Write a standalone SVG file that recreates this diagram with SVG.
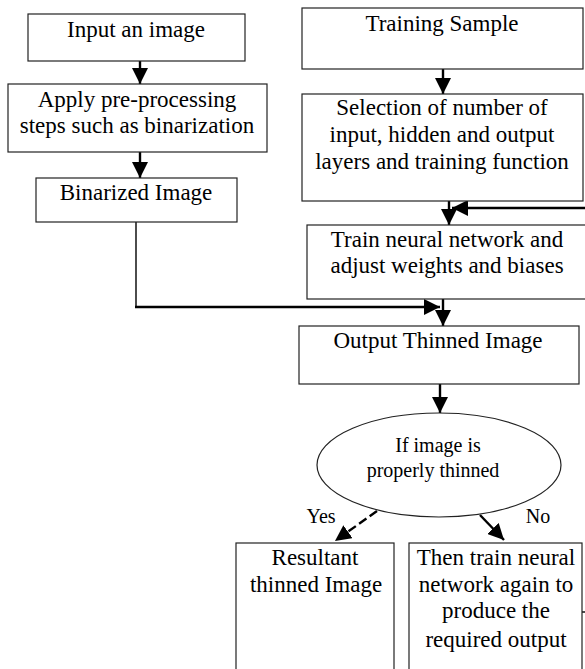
<svg xmlns="http://www.w3.org/2000/svg" width="585" height="669" viewBox="0 0 585 669">
<defs>
<style>
.box{fill:#fff;stroke:#222;stroke-width:1.2}
.t{font-family:"Liberation Serif","Times New Roman",serif;font-size:23px;fill:#000;text-anchor:middle}
.s{font-size:20px}
.c{fill:none;stroke:#000;stroke-width:2.4}
.thin{fill:none;stroke:#000;stroke-width:1.4}
</style>
<marker id="ah" viewBox="0 0 16 16" refX="16" refY="8" markerWidth="16" markerHeight="16" markerUnits="userSpaceOnUse" orient="auto">
<path d="M0,0 L16,8 L0,16 Z" fill="#000"/>
</marker>
</defs>
<rect width="585" height="669" fill="#fff"/>
<g id="connectors">
<line class="c" x1="140" y1="61" x2="140" y2="84" marker-end="url(#ah)"/>
<line class="c" x1="140" y1="152" x2="140" y2="178" marker-end="url(#ah)"/>
<line class="c" x1="443" y1="69" x2="443" y2="94" marker-end="url(#ah)"/>
<line class="c" x1="449" y1="201" x2="449" y2="225" marker-end="url(#ah)"/>
<line class="c" x1="585" y1="208" x2="452" y2="208" marker-end="url(#ah)"/>
<polyline class="thin" points="136,222 136,307"/>
<line class="c" x1="135" y1="307" x2="440" y2="307" marker-end="url(#ah)"/>
<line class="c" x1="443" y1="299" x2="443" y2="326" marker-end="url(#ah)"/>
<line class="c" x1="440" y1="384" x2="440" y2="413" marker-end="url(#ah)"/>
<line class="c" x1="377" y1="511" x2="335" y2="541" stroke-dasharray="9,4" marker-end="url(#ah)"/>
<line class="c" x1="480" y1="515" x2="504" y2="540" marker-end="url(#ah)"/>
<line class="thin" x1="582" y1="612" x2="585" y2="612"/>
</g>
<g id="input">
<rect class="box" x="28" y="14" width="217" height="47"/>
<text class="t" x="136" y="37">Input an image</text>
</g>
<g id="preprocess">
<rect class="box" x="8" y="84" width="259" height="68"/>
<text class="t" x="137" y="107">Apply pre-processing</text>
<text class="t" x="137" y="133">steps such as binarization</text>
</g>
<g id="binarized">
<rect class="box" x="36" y="178" width="201" height="44"/>
<text class="t" x="136" y="200">Binarized Image</text>
</g>
<g id="training">
<rect class="box" x="302" y="8" width="281" height="61"/>
<text class="t" x="442" y="31">Training Sample</text>
</g>
<g id="selection">
<rect class="box" x="302" y="94" width="281" height="107"/>
<text class="t" x="442" y="115">Selection of number of</text>
<text class="t" x="442" y="142">input, hidden and output</text>
<text class="t" x="442" y="169">layers and training function</text>
</g>
<g id="train">
<rect class="box" x="307" y="225" width="280" height="74"/>
<text class="t" x="447" y="247">Train neural network and</text>
<text class="t" x="447" y="273">adjust weights and biases</text>
</g>
<g id="output">
<rect class="box" x="299" y="326" width="280" height="58"/>
<text class="t" x="438" y="348">Output Thinned Image</text>
</g>
<g id="decision">
<ellipse class="box" cx="439" cy="465" rx="122" ry="52"/>
<text class="t s" x="438" y="452">If image is</text>
<text class="t s" x="433" y="477">properly thinned</text>
</g>
<g id="labels">
<text class="t s" x="321" y="523">Yes</text>
<text class="t s" x="538" y="523">No</text>
</g>
<g id="resultant">
<rect class="box" x="236" y="543" width="158" height="140"/>
<text class="t" x="315" y="565">Resultant</text>
<text class="t" x="316" y="592">thinned Image</text>
</g>
<g id="retrain">
<rect class="box" x="409" y="543" width="173" height="140"/>
<text class="t" x="496" y="565">Then train neural</text>
<text class="t" x="496" y="592">network again to</text>
<text class="t" x="496" y="618">produce the</text>
<text class="t" x="496" y="647">required output</text>
</g>
</svg>
